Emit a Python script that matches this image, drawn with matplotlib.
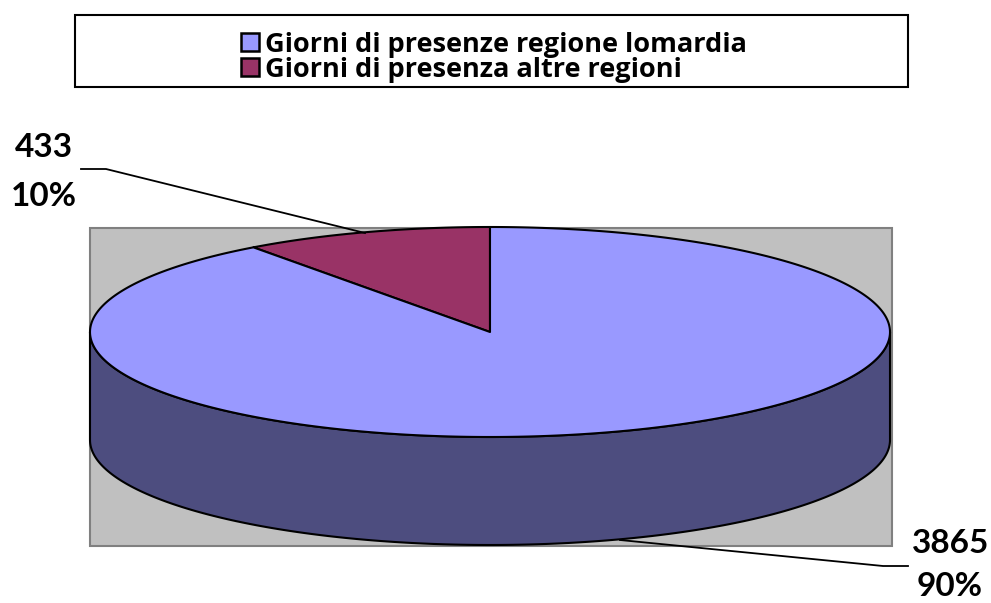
import numpy as np
import matplotlib
matplotlib.use("Agg")
import matplotlib.pyplot as plt
from matplotlib.patches import Polygon, Rectangle

# ---- data ----
categories = ["Giorni di presenze regione lomardia", "Giorni di presenza altre regioni"]
values = [3865, 433]
colors = ["#9999FF", "#993366"]
side_color = "#4D4D7F"

plt.rcParams['font.family'] = ['Lato', 'DejaVu Sans']

W, H = 991, 603
fig = plt.figure(figsize=(W / 100, H / 100), dpi=100)
ax = fig.add_axes([0, 0, 1, 1])
ax.set_xlim(0, W)
ax.set_ylim(H, 0)
ax.axis('off')

# geometry (pixel space)
cx, cy = 490, 332
rx, ry = 400, 105
depth = 108

def pt(theta_deg, dy=0.0):
    t = np.radians(theta_deg)
    return cx + rx * np.cos(t), cy - ry * np.sin(t) + dy

# plot area background
ax.add_patch(Rectangle((90, 228), 802, 318, facecolor="#C0C0C0",
                       edgecolor="#808080", lw=1.5, zorder=0))

# side (front half)
ang = np.linspace(180, 360, 200)
top = np.array([pt(a) for a in ang])
bot = np.array([pt(a, depth) for a in ang[::-1]])
ax.add_patch(Polygon(np.vstack([top, bot]), closed=True, facecolor=side_color,
                     edgecolor="black", lw=1.5, zorder=1))

# top slices: small slice starts at 12 o'clock going counter-clockwise
total = sum(values)
fracs = [v / total for v in values]
start = 90.0
small_end = start + fracs[1] * 360
a = np.linspace(start, small_end, 100)
poly = [(cx, cy)] + [pt(x) for x in a]
ax.add_patch(Polygon(poly, closed=True, facecolor=colors[1], edgecolor="black",
                     lw=1.5, zorder=2, joinstyle='round'))
a = np.linspace(small_end, start + 360, 400)
poly = [(cx, cy)] + [pt(x) for x in a]
ax.add_patch(Polygon(poly, closed=True, facecolor=colors[0], edgecolor="black",
                     lw=1.5, zorder=2, joinstyle='round'))

# data labels (value and percentage)
fs = 24
lab_kw = dict(ha='center', va='baseline', fontsize=fs, fontweight='bold', zorder=5)
ax.text(44, 157, f"{values[1]}", **lab_kw)
ax.text(44, 206, f"{round(fracs[1]*100)}%", **lab_kw)
ax.plot([81, 106, 365], [169, 169, 233], color='black', lw=1.3, zorder=3)

ax.text(951, 553, f"{values[0]}", **lab_kw)
ax.text(950, 596, f"{round(fracs[0]*100)}%", **lab_kw)
ax.plot([908, 883, 620], [566, 566, 540], color='black', lw=1.3, zorder=0.5)

# legend (box, colour squares, entries)
ax.add_patch(Rectangle((75, 15), 833, 72, facecolor="white", edgecolor="black",
                       lw=1.5, zorder=4))
leg_y = [52, 77]
for cat, col, yb in zip(categories, colors, leg_y):
    ax.add_patch(Rectangle((241, yb - 19), 18, 18, facecolor=col, edgecolor="black",
                           lw=1.8, zorder=5))
    ax.text(265, yb, cat, ha='left', va='baseline', fontsize=19.5, fontweight='bold',
            family=['Open Sans', 'DejaVu Sans'], zorder=6)

fig.savefig("out.png", dpi=100)
